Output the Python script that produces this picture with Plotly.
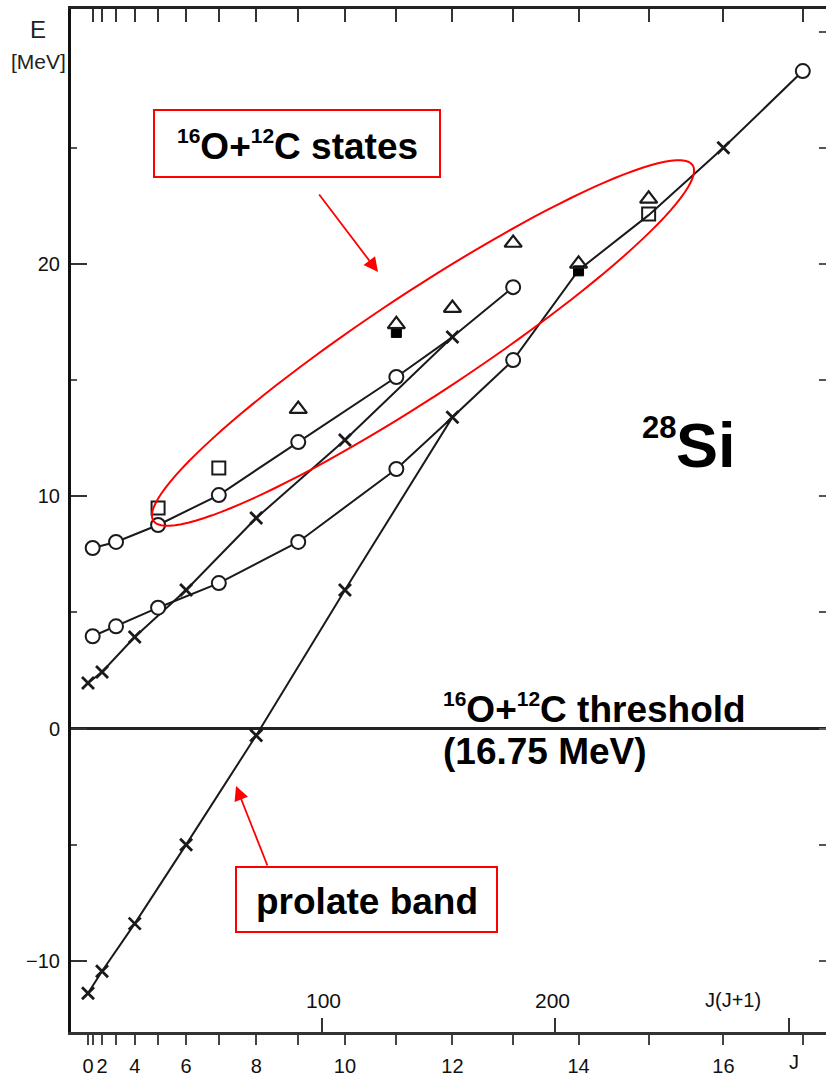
import numpy as np
import plotly.graph_objects as go

# ---------------- data (J values and excitation energies in MeV, E relative to 16O+12C threshold) -------------
prolate_J = [0, 2, 4, 6, 8, 10, 12, 13, 14, 15, 16, 17]
prolate_E = [-11.4, -10.45, -8.4, -5.0, -0.3, 5.96, 13.4, 15.86, 19.73, 22.1, 25.0, 28.3]

middle_J = [0, 2, 4, 6, 8, 10, 12, 13]
middle_E = [1.96, 2.43, 3.94, 5.96, 9.06, 12.42, 16.85, 19.0]

upper_J = [1, 3, 5, 7, 9, 11, 12]
upper_E = [7.77, 8.03, 8.76, 10.05, 12.33, 15.13, 16.85]

lower_J = [1, 3, 5, 7, 9, 11, 12]
lower_E = [3.97, 4.4, 5.2, 6.26, 8.03, 11.17, 13.4]

circle_J = [1, 3, 5, 7, 9, 11, 13, 1, 3, 5, 7, 9, 11, 13, 17]
circle_E = [7.77, 8.03, 8.76, 10.05, 12.33, 15.13, 19.0, 3.97, 4.4, 5.2, 6.26, 8.03, 11.17, 15.86, 28.3]

cross_J = [0, 2, 4, 6, 8, 10, 12, 0, 2, 4, 6, 8, 10, 12, 16]
cross_E = [1.96, 2.43, 3.94, 5.96, 9.06, 12.42, 16.85, -11.4, -10.45, -8.4, -5.0, -0.3, 5.96, 13.4, 25.0]

square_J = [5, 7, 15]
square_E = [9.49, 11.21, 22.15]

triangle_J = [9, 11, 12, 13, 14, 15]
triangle_E = [13.75, 17.4, 18.1, 20.9, 20.0, 22.8]

filled_J = [11, 14]
filled_E = [17.05, 19.7]

y_ticks = [-10, 0, 10, 20]
j_labels = [0, 2, 4, 6, 8, 10, 12, 14, 16]
jj_ticks = [100, 200, 300]

def jj(js):
    return [j * (j + 1) for j in js]

# ---------------- layout geometry (pixel -> data / paper helpers for decorations) ----------------
W, H = 826, 1077
L_PX, R_PX, T_PX, B_PX = 71, 826, 9, 1032
X0_PX, KX = 88.0, 2.336
Y0_PX, KY = 728.5, 23.23
XR = [(L_PX - X0_PX) / KX, (R_PX - X0_PX) / KX]
YR = [(Y0_PX - B_PX) / KY, (Y0_PX - T_PX) / KY]

def dx(px):
    return (px - X0_PX) / KX

def dy(py):
    return (Y0_PX - py) / KY

def pxp(px):
    return (px - L_PX) / (R_PX - L_PX)

def pyp(py):
    return (B_PX - py) / (B_PX - T_PX)

LINE = "#1a1a1a"
fig = go.Figure()

for J, E in [(prolate_J, prolate_E), (middle_J, middle_E), (upper_J, upper_E), (lower_J, lower_E)]:
    fig.add_trace(go.Scatter(x=jj(J), y=E, mode="lines",
                             line=dict(color=LINE, width=2), showlegend=False, hoverinfo="skip"))

fig.add_trace(go.Scatter(x=jj(circle_J), y=circle_E, mode="markers", showlegend=False,
                         marker=dict(symbol="circle", size=14, color="white",
                                     line=dict(color=LINE, width=2))))
fig.add_trace(go.Scatter(x=jj(cross_J), y=cross_E, mode="markers", showlegend=False,
                         marker=dict(symbol="x-thin", size=12, color=LINE,
                                     line=dict(color=LINE, width=2.8))))
fig.add_trace(go.Scatter(x=jj(filled_J), y=filled_E, mode="markers", showlegend=False,
                         marker=dict(symbol="square", size=10, color="black",
                                     line=dict(color="black", width=1))))
fig.add_trace(go.Scatter(x=jj(square_J), y=square_E, mode="markers", showlegend=False,
                         marker=dict(symbol="square-open", size=13, color=LINE,
                                     line=dict(color=LINE, width=2))))
fig.add_trace(go.Scatter(x=jj(triangle_J), y=triangle_E, mode="markers", showlegend=False,
                         marker=dict(symbol="triangle-up-open", size=15, color=LINE,
                                     line=dict(color=LINE, width=2.2))))

# invisible anchors so the overlaid tick axes are drawn
for xa, ya in [("x2", "y"), ("x3", "y"), ("x", "y2")]:
    fig.add_trace(go.Scatter(x=[XR[0]], y=[YR[0]], xaxis=xa, yaxis=ya, mode="markers",
                             marker=dict(opacity=0), showlegend=False, hoverinfo="skip"))

# threshold line at E = 0
fig.add_shape(type="line", xref="x", yref="y", x0=XR[0], x1=XR[1], y0=0, y1=0,
              line=dict(color="#222", width=3), layer="below")

# red ellipse around 16O+12C states
cx, cy, a, b, th = 423, 343, 323, 51, np.deg2rad(33.4)
t = np.linspace(0, 2 * np.pi, 121)
u, v = a * np.cos(t), b * np.sin(t)
px = cx + u * np.cos(th) + v * np.sin(th)
py = cy - u * np.sin(th) + v * np.cos(th)
path = "M " + " L ".join(f"{dx(p):.3f},{dy(q):.3f}" for p, q in zip(px, py)) + " Z"
fig.add_shape(type="path", xref="x", yref="y", path=path, line=dict(color="red", width=2))

# red boxes
fig.add_shape(type="rect", xref="x", yref="y", x0=dx(154), x1=dx(440), y0=dy(177), y1=dy(110),
              line=dict(color="red", width=2), fillcolor="white")
fig.add_shape(type="rect", xref="x", yref="y", x0=dx(236), x1=dx(497), y0=dy(932), y1=dy(867),
              line=dict(color="red", width=2), fillcolor="white")

BF = dict(family="Arial", size=37, color="black")
SUP = "<sup><span style='font-size:21px'>%s</span></sup>"
annos = [
    dict(x=297, y=145, text="<b>" + SUP % "16" + "O+" + SUP % "12" + "C states</b>", font=BF),
    dict(x=367, y=901, text="<b>prolate band</b>", font=BF),
    dict(x=441, y=708, text="<b>" + SUP % "16" + "O+" + SUP % "12" + "C threshold</b>",
         font=BF, xanchor="left"),
    dict(x=441, y=751, text="<b>(16.75 MeV)</b>", font=BF, xanchor="left"),
    dict(x=640, y=428, text="<b>28</b>", font=dict(family="Arial", size=31, color="black"),
         xanchor="left"),
    dict(x=674, y=445, text="<b>Si</b>", font=dict(family="Arial", size=63, color="black"),
         xanchor="left"),
    dict(x=38, y=30, text="E", font=dict(family="Arial", size=24, color="#222")),
    dict(x=38, y=62, text="[MeV]", font=dict(family="Arial", size=21, color="#222")),
    dict(x=323, y=1000, text="100", font=dict(family="Arial", size=21, color="#111")),
    dict(x=552, y=1000, text="200", font=dict(family="Arial", size=21, color="#111")),
    dict(x=733, y=1000, text="J(J+1)", font=dict(family="Arial", size=20, color="#111")),
    dict(x=794, y=1062, text="J", font=dict(family="Arial", size=20, color="#111")),
]
for an in annos:
    an.setdefault("xanchor", "center")
    an["x"], an["y"] = pxp(an["x"]), pyp(an["y"])
    fig.add_annotation(xref="paper", yref="paper", showarrow=False, yanchor="middle", **an)

# red arrows
fig.add_annotation(xref="x", yref="y", x=dx(378), y=dy(272), ax=-60, ay=-79, text="",
                   showarrow=True, arrowhead=2, arrowsize=1.6, arrowwidth=1.8, arrowcolor="red")
fig.add_annotation(xref="x", yref="y", x=dx(236), y=dy(786), ax=32, ay=81, text="",
                   showarrow=True, arrowhead=2, arrowsize=1.6, arrowwidth=1.8, arrowcolor="red")

all_J = list(range(0, 18))
fig.update_layout(
    width=W, height=H,
    margin=dict(l=L_PX, r=W - R_PX, t=T_PX, b=H - B_PX, pad=0),
    paper_bgcolor="white", plot_bgcolor="white",
    font=dict(family="Arial", color="#111"),
    showlegend=False,
    xaxis=dict(range=XR, showgrid=False, zeroline=False, showline=True, linecolor="#333", linewidth=3,
               ticks="outside", ticklen=10, tickwidth=1.5, tickcolor="#444",
               tickvals=jj(all_J), ticktext=[str(j) if j in j_labels else "" for j in all_J],
               tickangle=0, tickfont=dict(size=20, color="#111"), ticklabelstandoff=4),
    xaxis2=dict(range=XR, overlaying="x", anchor="y", side="bottom", showgrid=False, zeroline=False,
                showline=False, ticks="inside", ticklen=14, tickwidth=2, tickcolor="#333",
                tickvals=jj_ticks, showticklabels=False),
    xaxis3=dict(range=XR, overlaying="x", anchor="y", side="top", showgrid=False, zeroline=False,
                showline=True, linecolor="#222", linewidth=3, ticks="inside", ticklen=13, tickwidth=2,
                tickcolor="#333", tickvals=jj(all_J[1:]), showticklabels=False),
    yaxis=dict(range=YR, showgrid=False, zeroline=False, showline=True, linecolor="#111", linewidth=3,
               ticks="inside", ticklen=16, tickwidth=2, tickcolor="#333", tickvals=y_ticks,
               tickfont=dict(size=20, color="#111"), ticklabelstandoff=4,
               minor=dict(tickvals=[-5, 5, 15, 25], ticks="inside", ticklen=6, tickcolor="#555")),
    yaxis2=dict(range=YR, overlaying="y", anchor="x", side="right", showgrid=False, zeroline=False,
                showline=False, ticks="inside", ticklen=7, tickwidth=2, tickcolor="#555",
                tickvals=[-10, -5, 0, 5, 10, 15, 20, 25, 30], showticklabels=False),
)

fig.write_html("out.html")
